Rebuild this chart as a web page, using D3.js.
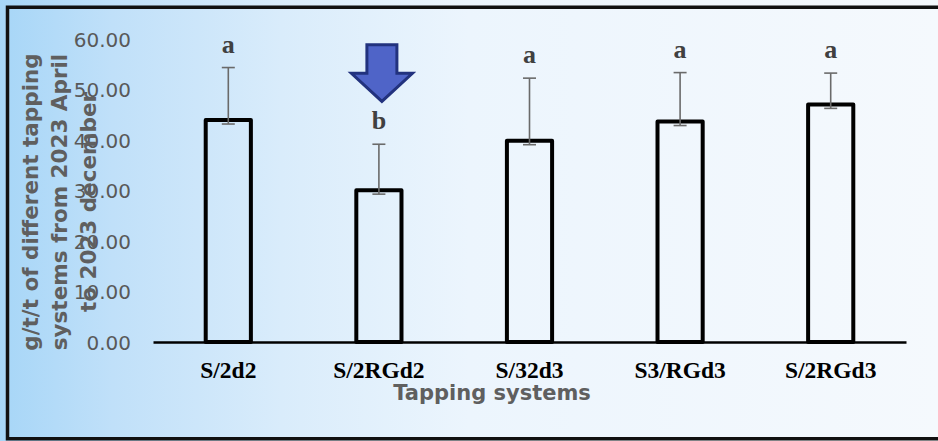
<!DOCTYPE html>
<html>
<head>
<meta charset="utf-8">
<script src="https://cdn.jsdelivr.net/npm/d3@7"></script>
<style>
html,body{margin:0;padding:0;overflow:hidden;background:#fff;}
svg{display:block;}
</style>
</head>
<body>
<svg id="chart" width="938" height="441"></svg>
<script>
// ---- data ----
const categories = ["S/2d2", "S/2RGd2", "S/32d3", "S3/RGd3", "S/2RGd3"];
const means = [44.0, 30.1, 39.9, 43.7, 47.1];
const errors = [10.4, 9.1, 12.4, 9.7, 6.2];
const letters = ["a", "b", "a", "a", "a"];
const yTicks = [0, 10, 20, 30, 40, 50, 60];
const yTitleLines = ["g/t/t of different tapping", "systems from 2023 April", "to 2023 december"];
const xTitle = "Tapping systems";
const highlightCategory = "S/2RGd2";

const W = 938, H = 441;
const svg = d3.select("#chart");

// background gradient
const defs = svg.append("defs");
const grad = defs.append("linearGradient").attr("id", "bg")
  .attr("x1", "0%").attr("y1", "0%").attr("x2", "100%").attr("y2", "0%");
[[0, "#a7d6f7"], [0.12, "#c0e0f9"], [0.3, "#d9ecfb"], [0.5, "#ecf5fd"], [1, "#f5f9fd"]]
  .forEach(([o, c]) => grad.append("stop").attr("offset", o).attr("stop-color", c));
svg.append("rect").attr("width", W).attr("height", H).attr("fill", "url(#bg)");

// frame (top, left, bottom; right edge lies outside the picture)
svg.append("path")
  .attr("d", `M${W + 10},7.2 L7.5,7.2 L7.5,438.7 L${W + 10},438.7`)
  .attr("fill", "none").attr("stroke", "#111").attr("stroke-width", 3.5);

const plot = {left: 153, right: 906, top: 39.3, bottom: 342};

const x = d3.scaleBand().domain(categories).range([plot.left, plot.right])
  .paddingInner(0.7).paddingOuter(0.35);
const y = d3.scaleLinear().domain([0, 60]).range([plot.bottom, plot.top]);

// y tick labels (axis without line/ticks)
const yAxis = d3.axisLeft(y).tickValues(yTicks).tickFormat(d3.format(".2f")).tickSize(0).tickPadding(0);
const yg = svg.append("g").attr("transform", "translate(131,0)").call(yAxis);
yg.select(".domain").remove();
yg.selectAll("text").attr("font-family", "DejaVu Sans").attr("font-size", 20)
  .attr("fill", "#595959").attr("dy", "0.36em");

// bars
const bw = x.bandwidth();
svg.append("g").selectAll("rect").data(categories).join("rect")
  .attr("x", d => x(d)).attr("width", bw)
  .attr("y", (d, i) => y(means[i]))
  .attr("height", (d, i) => y(0) - y(means[i]))
  .attr("fill", "none").attr("stroke", "#000").attr("stroke-width", 4)
  .attr("stroke-linejoin", "round");

// baseline axis
const xAxis = d3.axisBottom(x).tickSize(0).tickPadding(0);
const xg = svg.append("g").attr("transform", `translate(0,${y(0)})`).call(xAxis);
xg.select(".domain").attr("stroke", "#000").attr("stroke-width", 2.6);
xg.selectAll("text").attr("font-family", "Liberation Serif").attr("font-weight", "bold")
  .attr("font-size", 23.5).attr("fill", "#000").attr("dy", "1.55em");

// error bars
const eg = svg.append("g").attr("stroke", "#6a6a6a").attr("stroke-width", 1.6);
categories.forEach((c, i) => {
  const cx = x(c) + bw / 2;
  const y0 = y(means[i]) + 4, y1 = y(means[i] + errors[i]);
  eg.append("line").attr("x1", cx).attr("x2", cx).attr("y1", y0).attr("y2", y1);
  eg.append("line").attr("x1", cx - 6.5).attr("x2", cx + 6.5).attr("y1", y0).attr("y2", y0);
  eg.append("line").attr("x1", cx - 6.5).attr("x2", cx + 6.5).attr("y1", y1).attr("y2", y1);
});

// significance letters
svg.append("g").selectAll("text").data(categories).join("text")
  .attr("x", d => x(d) + bw / 2)
  .attr("y", (d, i) => y(means[i] + errors[i]) - 15)
  .attr("text-anchor", "middle")
  .attr("font-family", "Liberation Serif").attr("font-weight", "bold")
  .attr("font-size", 26).attr("fill", "#404040")
  .text((d, i) => letters[i]);

// highlight arrow
{
  const ax = x(highlightCategory) + bw / 2 + 3;
  const at = y(58.9);
  const p = d3.path();
  p.moveTo(ax - 15, at);
  p.lineTo(ax + 15, at);
  p.lineTo(ax + 15, at + 28.5);
  p.lineTo(ax + 30.5, at + 28.5);
  p.lineTo(ax, at + 56.5);
  p.lineTo(ax - 30.5, at + 28.5);
  p.lineTo(ax - 15, at + 28.5);
  p.closePath();
  svg.append("path").attr("d", p.toString()).attr("fill", "#4f64c8")
    .attr("stroke", "#22327e").attr("stroke-width", 3).attr("stroke-linejoin", "miter");
}

// y title
const yt = svg.append("text").attr("transform", "translate(0,202) rotate(-90)")
  .attr("text-anchor", "middle").attr("font-family", "DejaVu Sans").attr("font-weight", "bold")
  .attr("font-size", 21.5).attr("fill", "#5f5f5f");
yTitleLines.forEach((t, i) => {
  yt.append("tspan").attr("x", 0).attr("y", 37.5 + i * 29.3).text(t);
});

// x title
svg.append("text").attr("x", 492).attr("y", 399.5).attr("text-anchor", "middle")
  .attr("font-family", "DejaVu Sans").attr("font-weight", "bold")
  .attr("font-size", 21).attr("fill", "#5f5f5f").text(xTitle);
</script>
</body>
</html>
